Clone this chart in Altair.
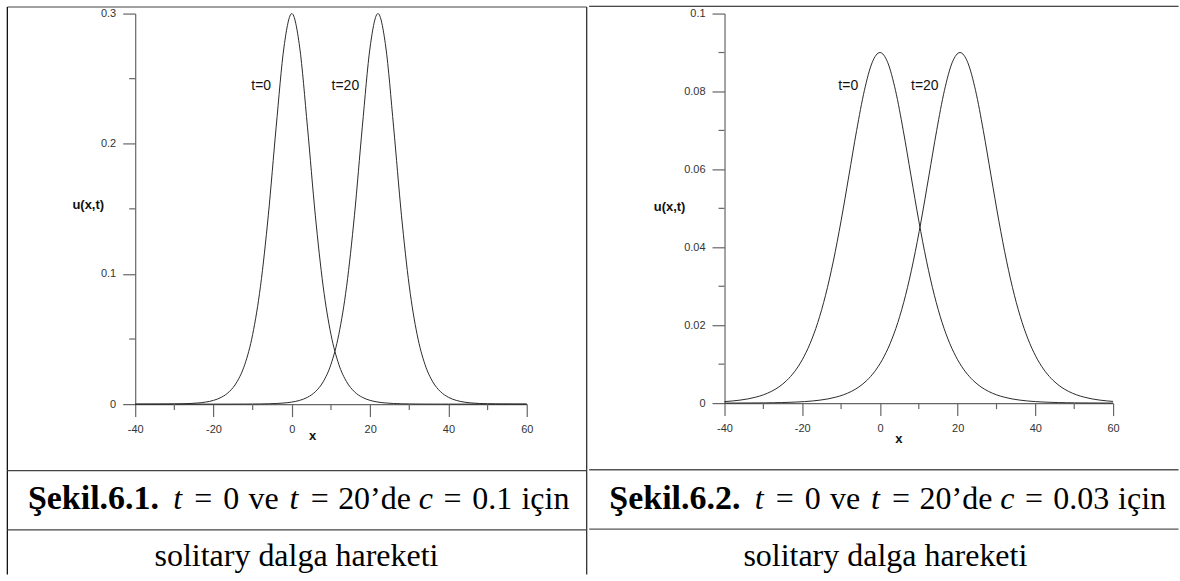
import altair as alt
import pandas as pd

# ---------------- data ----------------
CURVE_LABELS = ["t=0", "t=20"]

X_GRID = [-40, -38, -36, -34, -32, -30, -28, -26, -24, -22, -20, -18, -16, -14, -12,
          -10, -8, -6, -4, -2, 0, 2, 4, 6, 8, 10, 12, 14, 16, 18, 20, 22, 24, 26, 28,
          30, 32, 34, 36, 38, 40, 42, 44, 46, 48, 50, 52, 54, 56, 58, 60]

# Sekil 6.1 (c = 0.1)
U_LEFT_T0 = [0.00001, 0.00001, 0.00002, 0.00004, 0.00008, 0.00014, 0.00026, 0.00047,
             0.00086, 0.00157, 0.00287, 0.00523, 0.00949, 0.01711, 0.03054, 0.05347,
             0.09058, 0.14512, 0.21278, 0.27430, 0.30000, 0.27430, 0.21278, 0.14512,
             0.09058, 0.05347, 0.03054, 0.01711, 0.00949, 0.00523, 0.00287, 0.00157,
             0.00086, 0.00047, 0.00026, 0.00014, 0.00008, 0.00004, 0.00002, 0.00001,
             0.00001, 0, 0, 0, 0, 0, 0, 0, 0, 0, 0]
U_LEFT_T20 = [0, 0, 0, 0, 0, 0, 0, 0, 0, 0, 0,
              0.00001, 0.00001, 0.00002, 0.00004, 0.00008, 0.00014, 0.00026, 0.00047,
              0.00086, 0.00157, 0.00287, 0.00523, 0.00949, 0.01711, 0.03054, 0.05347,
              0.09058, 0.14512, 0.21278, 0.27430, 0.30000, 0.27430, 0.21278, 0.14512,
              0.09058, 0.05347, 0.03054, 0.01711, 0.00949, 0.00523, 0.00287, 0.00157,
              0.00086, 0.00047, 0.00026, 0.00014, 0.00008, 0.00004, 0.00002, 0.00001]

# Sekil 6.2 (c = 0.03)
U_RIGHT_T0 = [0.00039, 0.00055, 0.00077, 0.00108, 0.00152, 0.00213, 0.00298, 0.00416,
              0.00580, 0.00805, 0.01111, 0.01524, 0.02068, 0.02770, 0.03643, 0.04680,
              0.05833, 0.06999, 0.08028, 0.08743, 0.09000, 0.08743, 0.08028, 0.06999,
              0.05833, 0.04680, 0.03643, 0.02770, 0.02068, 0.01524, 0.01111, 0.00805,
              0.00580, 0.00416, 0.00298, 0.00213, 0.00152, 0.00108, 0.00077, 0.00055,
              0.00039, 0.00028, 0.00020, 0.00014, 0.00010, 0.00007, 0.00005, 0.00004,
              0.00003, 0.00002, 0.00001]
X_RIGHT_T20 = [-40, -39.4, -37.4, -35.4, -33.4, -31.4, -29.4, -27.4, -25.4, -23.4, -21.4,
               -19.4, -17.4, -15.4, -13.4, -11.4, -9.4, -7.4, -5.4, -3.4, -1.4, 0.6, 2.6,
               4.6, 6.6, 8.6, 10.6, 12.6, 14.6, 16.6, 18.6, 20.6, 22.6, 24.6, 26.6, 28.6,
               30.6, 32.6, 34.6, 36.6, 38.6, 40.6, 42.6, 44.6, 46.6, 48.6, 50.6, 52.6,
               54.6, 56.6, 58.6, 60]
U_RIGHT_T20 = [0.00001, 0.00001, 0.00002, 0.00003, 0.00004, 0.00005, 0.00007, 0.00010,
               0.00014, 0.00020, 0.00028, 0.00039, 0.00055, 0.00077, 0.00108, 0.00152,
               0.00213, 0.00298, 0.00416, 0.00580, 0.00805, 0.01111, 0.01524, 0.02068,
               0.02770, 0.03643, 0.04680, 0.05833, 0.06999, 0.08028, 0.08743, 0.09000,
               0.08743, 0.08028, 0.06999, 0.05833, 0.04680, 0.03643, 0.02770, 0.02068,
               0.01524, 0.01111, 0.00805, 0.00580, 0.00416, 0.00298, 0.00213, 0.00152,
               0.00108, 0.00077, 0.00055, 0.00044]

X_MAJOR = [-40, -20, 0, 20, 40, 60]
X_MINOR = [-30, -10, 10, 30, 50]
LEFT_Y_MAJOR = [0, 0.1, 0.2, 0.3]
LEFT_Y_MINOR = [0.05, 0.15, 0.25]
RIGHT_Y_MAJOR = [0, 0.02, 0.04, 0.06, 0.08, 0.1]
RIGHT_Y_MINOR = [0.01, 0.03, 0.05, 0.07, 0.09]

# curve annotations (data coordinates, right edge of text)
LEFT_LABEL_X = [-5.3, 17.2]
LEFT_LABEL_U = [0.244, 0.244]
RIGHT_LABEL_X = [-5.6, 15.1]
RIGHT_LABEL_U = [0.0814, 0.0814]

# captions
LEFT_TOKENS = ["Şekil.6.1.", "t", "=", "0", "ve", "t", "=", "20’de", "c", "=", "0.1", "için"]
RIGHT_TOKENS = ["Şekil.6.2.", "t", "=", "0", "ve", "t", "=", "20’de", "c", "=", "0.03", "için"]
CAP_STYLES = ["bold", "italic", "roman", "roman", "roman", "italic", "roman", "roman",
              "italic", "roman", "roman", "roman"]
SUBCAPTION = "solitary dalga hareketi"

# ---------------- layout (pixels) ----------------
LEFT_CENTERS = [68.7, 153.0, 178.7, 206.6, 239.1, 269.5, 295.2, 350.1, 401.5, 428.3, 468.0, 521.2]
RIGHT_CENTERS = [68.7, 153.0, 178.7, 206.6, 239.1, 269.5, 295.2, 350.1, 401.5, 428.3, 475.6, 536.4]
CAP_BASE = 509
SUB_BASE = 566

AX = dict(labelFont="Liberation Sans", labelFontSize=11, labelColor="#333",
          domainColor="#666", domainWidth=1.2, tickColor="#666", tickWidth=1.2,
          tickSize=12.5, labelPadding=7, grid=False, labelFlush=False,
          titleFont="Liberation Sans", titleFontSize=13, titleFontWeight="bold",
          titleColor="#111", titleAngle=0, titleAlign="center", titleBaseline="middle")


def panel(x_lists, u_lists, y_dom, y_major, y_minor, lab_x, lab_u, W, H, ox, oy,
          ytitle, xtitle, tokens, centers, cap_x0, sub_cx, borders):
    rows = []
    for name, xs, us in zip(CURVE_LABELS, x_lists, u_lists):
        rows += [{"x": a, "u": b, "series": name} for a, b in zip(xs, us)]
    df = pd.DataFrame(rows)
    xsc = alt.Scale(domain=[-40, 60], nice=False, zero=False)
    ysc = alt.Scale(domain=y_dom, nice=False, zero=False)

    lines = alt.Chart(df).mark_line(color="#2a2a2a", strokeWidth=1, interpolate="monotone").encode(
        x=alt.X("x:Q", scale=xsc,
                axis=alt.Axis(values=X_MAJOR, title="x", titleX=xtitle[0] - ox,
                              titleY=xtitle[1] - (oy + H), orient="bottom",
                              labelExpr="'' + datum.value", **AX)),
        y=alt.Y("u:Q", scale=ysc,
                axis=alt.Axis(values=y_major, title="u(x,t)", titleX=ytitle[0] - ox,
                              titleY=ytitle[1] - oy, orient="left", format="~g", **AX)),
        detail="series:N")
    ymin = alt.Chart(pd.DataFrame({"u": y_minor})).mark_rule(color="#666", strokeWidth=1.2).encode(
        y=alt.Y("u:Q", scale=ysc, axis=None), x=alt.value(-6), x2=alt.value(0))
    xmin = alt.Chart(pd.DataFrame({"x": X_MINOR})).mark_rule(color="#666", strokeWidth=1.2).encode(
        x=alt.X("x:Q", scale=xsc, axis=None), y=alt.value(H), y2=alt.value(H + 6))
    labs = alt.Chart(pd.DataFrame({"x": lab_x, "u": lab_u, "text": CURVE_LABELS})).mark_text(
        font="Liberation Sans", fontSize=14, align="right", baseline="middle", color="#111").encode(
        x=alt.X("x:Q", scale=xsc, axis=None), y=alt.Y("u:Q", scale=ysc, axis=None), text="text:N")

    layers = [lines, ymin, xmin, labs]
    for kind, a, b, c, color, w in borders:
        if kind == "h":
            enc = dict(y=alt.value(a - oy), x=alt.value(b - ox), x2=alt.value(c - ox))
        else:
            enc = dict(x=alt.value(a - ox), y=alt.value(b - oy), y2=alt.value(c - oy))
        layers.append(alt.Chart().mark_rule(color=color, strokeWidth=w).encode(**enc))

    for tok, cx, sty in zip(tokens, centers, CAP_STYLES):
        props = dict(text=tok, font="Liberation Serif", fontSize=32, align="center",
                     baseline="alphabetic", color="#000")
        if sty == "bold":
            props.update(fontWeight="bold", fontSize=34)
        elif sty == "italic":
            props.update(fontStyle="italic")
        layers.append(alt.Chart().mark_text(**props).encode(
            x=alt.value(cap_x0 + cx - ox), y=alt.value(CAP_BASE - oy)))
    layers.append(alt.Chart().mark_text(text=SUBCAPTION, font="Liberation Serif", fontSize=32,
                                        align="center", baseline="alphabetic", color="#000").encode(
        x=alt.value(sub_cx - ox), y=alt.value(SUB_BASE - oy)))
    return (alt.layer(*layers)
            .resolve_axis(x="independent", y="independent")
            .properties(width=W, height=H))


LEFT_BORDERS = [
    ("h", 6, 7, 587, "#808080", 1.5),
    ("v", 7, 6, 574, "#111", 1.3),
    ("v", 587, 6, 574, "#333", 1.3),
    ("h", 470, 7, 587, "#444", 1.3),
    ("h", 529.5, 7, 587, "#444", 1.3),
]
RIGHT_BORDERS = [
    ("h", 6, 588, 1178, "#111", 1.0),
    ("h", 470, 588, 1178, "#555", 1.3),
    ("h", 529.5, 588, 1178, "#555", 1.3),
]

left = panel([X_GRID, X_GRID], [U_LEFT_T0, U_LEFT_T20], [0, 0.3], LEFT_Y_MAJOR, LEFT_Y_MINOR,
             LEFT_LABEL_X, LEFT_LABEL_U, 392, 391, 135, 12.5,
             (87.5, 203.5), (312, 435), LEFT_TOKENS, LEFT_CENTERS, 24.5, 296.5, LEFT_BORDERS)
right = panel([X_GRID, X_RIGHT_T20], [U_RIGHT_T0, U_RIGHT_T20], [0, 0.1], RIGHT_Y_MAJOR,
              RIGHT_Y_MINOR, RIGHT_LABEL_X, RIGHT_LABEL_U, 389, 390, 723.5, 13.3,
              (668, 206), (897.5, 438.5), RIGHT_TOKENS, RIGHT_CENTERS, 605.1, 884.5, RIGHT_BORDERS)

chart = alt.hconcat(left, right, spacing=0).properties(
    padding={"left": 6.35, "top": 5.25, "right": 0, "bottom": 0},
    background="white",
).configure_view(strokeWidth=0)

chart.save("out.html", embed_options={"renderer": "svg", "actions": False})
